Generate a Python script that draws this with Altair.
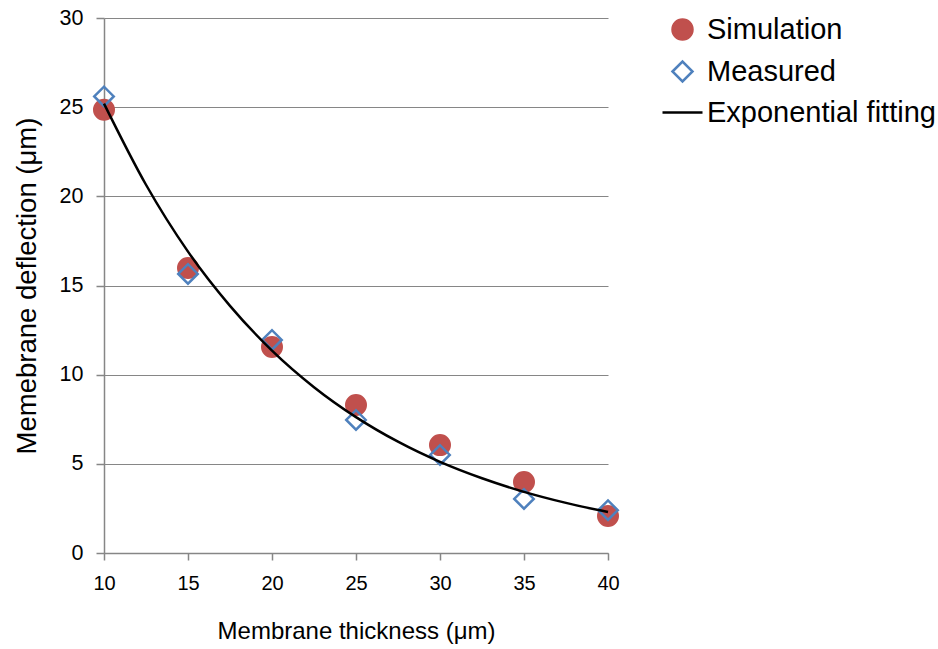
import altair as alt
import pandas as pd

thickness = [10, 15, 20, 25, 30, 35, 40]
simulation = [24.85, 15.98, 11.55, 8.3, 6.05, 3.98, 2.07]
measured = [25.6, 15.65, 11.95, 7.46, 5.5, 3.03, 2.4]

fit_x = [10, 12.5, 15, 17.5, 20, 22.5, 25, 27.5, 30, 32.5, 35, 37.5, 40]
fit_y = [25.2, 20.65, 16.9, 13.86, 11.35, 9.3, 7.62, 6.24, 5.11, 4.19, 3.43, 2.81, 2.3]

series = ["Simulation", "Measured", "Exponential fitting"]

pts = pd.DataFrame(
    {"x": thickness + thickness,
     "y": simulation + measured,
     "series": ["Simulation"] * len(thickness) + ["Measured"] * len(thickness)}
)
fit = pd.DataFrame({"x": fit_x, "y": fit_y, "series": ["Exponential fitting"] * len(fit_x)})

font = "Liberation Sans"
axis_gray = "#868686"

leg = alt.Legend(
    title=None, orient="none", legendX=564, legendY=-3,
    labelFont=font, labelFontSize=29, labelColor="black", labelLimit=0,
    symbolSize=400, symbolStrokeWidth=2.5, rowPadding=11, labelOffset=10,
)

shape_scale = alt.Scale(domain=series, range=["circle", "diamond", "M-2,0H2"])
fill_scale = alt.Scale(domain=series, range=["#C0504D", "transparent", "transparent"])
stroke_scale = alt.Scale(domain=series, range=["#C0504D", "#4F81BD", "#000000"])

xenc = alt.X("x:Q", scale=alt.Scale(domain=[10, 40], nice=False),
             axis=alt.Axis(values=thickness, title="Membrane thickness (μm)", grid=False,
                           tickSize=7, labelPadding=13, titlePadding=26, labelFlush=False,
                           labelFontSize=20, titleFontSize=24))
yenc = alt.Y("y:Q", scale=alt.Scale(domain=[0, 30], nice=False),
             axis=alt.Axis(values=[0, 5, 10, 15, 20, 25, 30], title="Memebrane deflection (μm)",
                           grid=True, tickSize=8, labelPadding=13, titlePadding=18,
                           labelFontSize=21.5, titleFontSize=27.5))

points = alt.Chart(pts).mark_point(size=380, opacity=1, strokeWidth=2.5).encode(
    x=xenc, y=yenc,
    shape=alt.Shape("series:N", scale=shape_scale, legend=leg),
    fill=alt.Fill("series:N", scale=fill_scale, legend=leg),
    stroke=alt.Stroke("series:N", scale=stroke_scale, legend=leg),
)

line = alt.Chart(fit).mark_line(strokeWidth=2.5, interpolate="monotone").encode(
    x="x:Q", y="y:Q",
    stroke=alt.Stroke("series:N", scale=stroke_scale, legend=leg),
)

chart = alt.layer(points, line).properties(
    width=504, height=535,
    autosize=alt.AutoSizeParams(type="none"),
    padding={"left": 104, "top": 18, "right": 330, "bottom": 96},
    background="white",
).configure_view(stroke=None).configure_axis(
    labelFont=font, titleFont=font,
    labelColor="black", titleColor="black", titleFontWeight="normal",
    domainColor=axis_gray, domainWidth=1.5, tickColor=axis_gray, tickWidth=1.5,
    gridColor=axis_gray, gridWidth=1,
)

chart.save("out.html", embed_options={"renderer": "svg", "actions": False})
